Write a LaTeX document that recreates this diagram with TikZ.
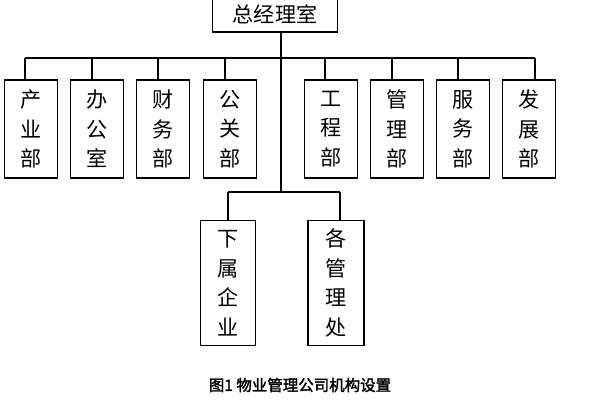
\documentclass[tikz,border=0pt]{standalone}
\usepackage{fontspec}
\newfontfamily\cjk{Noto Sans CJK SC}
\newfontfamily\cjkb{Noto Sans CJK SC}[FakeBold=2]
\begin{document}
\begin{tikzpicture}[x=0.025cm,y=-0.025cm,
  box/.style={draw,line width=0.8pt,inner sep=0pt,font=\cjk\fontsize{15}{21}\selectfont,align=center},
  ln/.style={line width=0.8pt}]
\useasboundingbox (0,0) rectangle (600,400);
\node[box,minimum width=125*0.025cm,minimum height=36*0.025cm] (top) at (275,14) {总经理室};
\foreach \n/\x/\t in {a/31/产\\业\\部,b/97/办\\公\\室,c/163/财\\务\\部,d/230/公\\关\\部,e/331/工\\程\\部,f/397/管\\理\\部,g/463/服\\务\\部,h/529/发\\展\\部}{
  \node[box,minimum width=53*0.025cm,minimum height=98*0.025cm] (\n) at (\x,129) {\t};
}
\node[box,minimum width=55*0.025cm,minimum height=125*0.025cm] (s1) at (228,283) {下\\属\\企\\业};
\node[box,minimum width=56*0.025cm,minimum height=125*0.025cm] (s2) at (336,283) {各\\管\\理\\处};
\coordinate (j1) at (281,58);
\coordinate (j2) at (281,192);
\draw[ln] (top.south -| j1) -- (j2);
\draw[ln] (25,58) -- (535,58);
\foreach \n/\x in {a/25,b/92,c/158,d/225,e/325,f/392,g/458,h/535}{
  \draw[ln] (\x,58) -- (\n.north -| {(\x,0)});
}
\draw[ln] (228,192) -- (340,192);
\draw[ln] (228,192) -- (s1.north);
\draw[ln] (340,192) -- (s2.north -| {(340,0)});
\node[font=\cjkb\fontsize{11}{13}\selectfont] (cap) at (300,385) {图1 物业管理公司机构设置};
\end{tikzpicture}
\end{document}
